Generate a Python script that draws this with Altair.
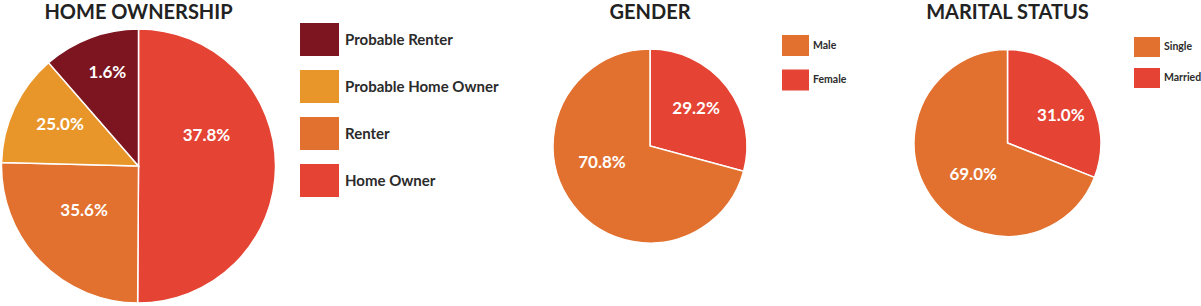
import altair as alt
import pandas as pd

# ---------------- data ----------------
home_cats = ["Home Owner", "Renter", "Probable Home Owner", "Probable Renter"]
home_share = [50.1, 25.3, 13.2, 11.4]          # visual slice sizes
home_labels = ["37.8%", "35.6%", "25.0%", "1.6%"]  # printed labels
home_legend = ["Probable Renter", "Probable Home Owner", "Renter", "Home Owner"]
home_colors = ["#7C1520", "#E8962A", "#E2702E", "#E54334"]

gender_cats = ["Female", "Male"]
gender_share = [29.2, 70.8]
gender_labels = ["29.2%", "70.8%"]
gender_legend = ["Male", "Female"]
gender_colors = ["#E2702E", "#E54334"]

marital_cats = ["Married", "Single"]
marital_share = [31.0, 69.0]
marital_labels = ["31.0%", "69.0%"]
marital_legend = ["Single", "Married"]
marital_colors = ["#E2702E", "#E54334"]

titles = ["HOME OWNERSHIP", "GENDER", "MARITAL STATUS"]

FONT = "Lato"


def rect_path(w, h):
    k = h / w
    return f"M-1,-{k:.3f}L1,-{k:.3f}L1,{k:.3f}L-1,{k:.3f}Z"


def pie(cats, share, labels, legend_order, colors, title, cx, cy, r, label_r,
        label_size, lx, ly, sw, sh, row_pad, leg_font, leg_off, title_y, nudges):
    df = pd.DataFrame({"cat": cats, "share": share, "label": labels,
                       "idx": list(range(len(cats)))})
    base = alt.Chart(df).encode(
        theta=alt.Theta("share:Q", stack=True),
        order=alt.Order("idx:Q"),
        x=alt.value(cx),
        y=alt.value(cy),
    )
    arc = base.mark_arc(outerRadius=r, stroke="white", strokeWidth=1.5).encode(
        color=alt.Color(
            "cat:N",
            scale=alt.Scale(domain=legend_order, range=colors),
            legend=alt.Legend(
                orient="none", legendX=lx, legendY=ly, title=None,
                symbolType=rect_path(sw, sh), symbolSize=sw * sw,
                symbolStrokeWidth=0, symbolOpacity=1,
                labelFont=FONT, labelFontWeight="bold", labelFontSize=leg_font,
                labelColor="#2b2b2b", labelOffset=leg_off, rowPadding=row_pad,
                padding=0, labelLimit=300,
            ),
        )
    )
    out = [arc]
    for i, (dx, dy) in enumerate(nudges):
        txt = base.mark_text(radius=label_r, font=FONT, fontWeight="bold",
                             fontSize=label_size, color="white", dx=dx, dy=dy).encode(
            text="label:N",
            opacity=alt.condition(alt.datum.idx == i, alt.value(1), alt.value(0)),
        )
        out.append(txt)
    tdf = pd.DataFrame({"title": [title]})
    ttl = alt.Chart(tdf).mark_text(font=FONT, fontWeight="bold", fontSize=20,
                                   color="#222222", baseline="middle").encode(
        text="title:N", x=alt.value(cx), y=alt.value(title_y))
    out.append(ttl)
    return out


layers = []
layers += pie(home_cats, home_share, home_labels, home_legend, home_colors,
              titles[0], 138.5, 166, 137, 80, 17,
              300, 20, 39, 33, 11, 15, 6, 13,
              [(-12, -30), (3, -11), (-6, -7), (-3, -18)])
layers += pie(gender_cats, gender_share, gender_labels, gender_legend, gender_colors,
              titles[1], 650, 146, 97, 58, 17,
              782, 32, 27, 21, 9.5, 10.5, 4, 13,
              [(0, -2), (-2, -18)])
layers += pie(marital_cats, marital_share, marital_labels, marital_legend, marital_colors,
              titles[2], 1007.5, 143, 93.5, 56, 17,
              1134, 34, 26, 20, 8, 10.5, 4, 13,
              [(7, 4), (12, 1)])

chart = alt.layer(*layers).resolve_scale(
    theta="independent", color="independent"
).properties(
    width=1201, height=306, padding=0,
    autosize=alt.AutoSizeParams(type="none"),
).configure_view(stroke=None)

chart.save("out.html", embed_options={"renderer": "svg", "actions": False})
